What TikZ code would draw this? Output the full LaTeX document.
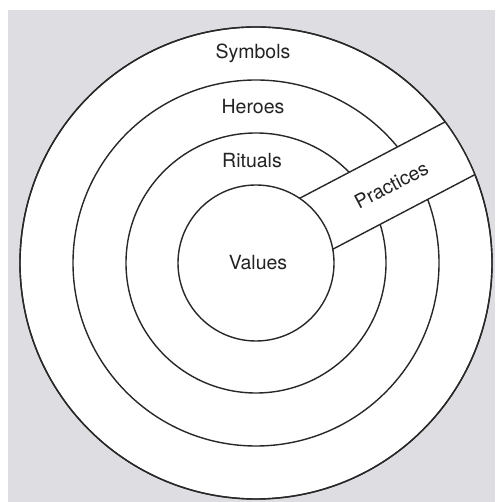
\documentclass[tikz,border=0pt]{standalone}
\usepackage{fontspec}
\setmainfont{TeX Gyre Heros}
\definecolor{page}{RGB}{221,221,226}
\definecolor{inkc}{RGB}{40,40,40}
\definecolor{textc}{RGB}{35,35,35}
\begin{document}
\begin{tikzpicture}[x=1pt,y=1pt,
  ink/.style={draw=inkc, line width=1.4pt},
  ring/.style={circle, ink, fill=white, inner sep=0pt, outer sep=0pt},
  lbl/.style={text=textc, font=\fontsize{19.5}{22}\selectfont, inner sep=0pt}]
\useasboundingbox (0,0) rectangle (495,502);
% paper
\fill[white] (0,0) rectangle (495,502);
\fill[page] (8,0) rectangle (495,492);
% the onion rings
\coordinate (c) at (256,239);
\node[ring, minimum size=472pt] (symbolsring) at (c) {};
\node[ring, minimum size=366pt] (heroesring) at (c) {};
\node[ring, minimum size=260pt] (ritualsring) at (c) {};
% the "Practices" band cutting through the outer layers
\begin{scope}[shift={(c)}, rotate=27.7]
  \coordinate (pu1) at (68.7,37);
  \coordinate (pu2) at (233.1,37);
  \coordinate (pl1) at (74.4,-23.5);
  \coordinate (pl2) at (234.8,-23.5);
  \begin{scope}
    \clip (0,0) circle (236);
    \fill[white] (60,37) -- (250,37) -- (250,-23.5) -- (60,-23.5) -- cycle;
  \end{scope}
  \node[lbl, rotate=27.7] (practices) at (156,6) {Practices};
\end{scope}
\node[ring, minimum size=156pt] (valuesring) at (c) {};
\draw[ink] (pu1) -- (pu2);
\draw[ink] (pl1) -- (pl2);
\draw[ink] (c) circle (236);
% layer names
\node[lbl] (symbols) at ([shift={(-3,210)}]c) {Symbols};
\node[lbl] (heroes) at ([shift={(-3,156)}]c) {Heroes};
\node[lbl] (rituals) at ([shift={(-4,102)}]c) {Rituals};
\node[lbl] (values) at ([shift={(2,0)}]c) {Values};
\end{tikzpicture}
\end{document}
